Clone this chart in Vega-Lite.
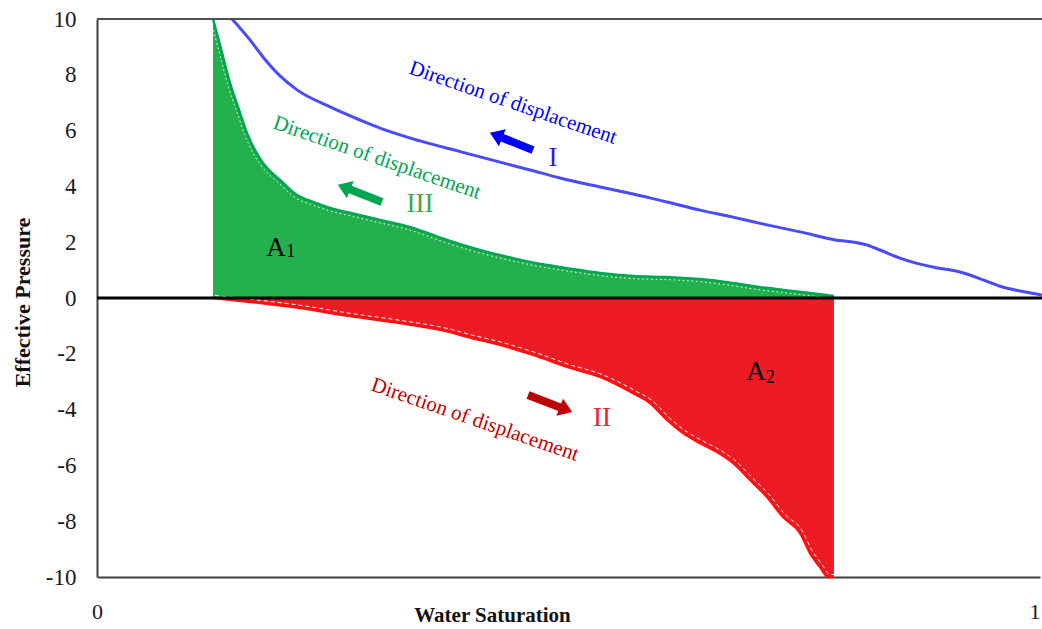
{
  "$schema": "https://vega.github.io/schema/vega-lite/v6.json",
  "width": 943,
  "height": 558,
  "autosize": {"type": "none"},
  "padding": {"left": 97, "top": 19, "right": 2, "bottom": 52},
  "background": "white",
  "config": {
    "view": {"stroke": null},
    "font": "Liberation Serif",
    "text": {"font": "Liberation Serif"},
    "axis": {
      "labelFont": "Liberation Serif",
      "titleFont": "Liberation Serif",
      "labelFontSize": 23,
      "labelColor": "#1a1a1a"
    }
  },
  "datasets": {
    "curves": [
      {"series": "I", "sw": 0.1432, "p": 10.0},
      {"series": "I", "sw": 0.1622, "p": 9.25},
      {"series": "I", "sw": 0.1760, "p": 8.64},
      {"series": "I", "sw": 0.1941, "p": 7.96},
      {"series": "I", "sw": 0.2121, "p": 7.46},
      {"series": "I", "sw": 0.2471, "p": 6.85},
      {"series": "I", "sw": 0.2789, "p": 6.38},
      {"series": "I", "sw": 0.3001, "p": 6.09},
      {"series": "I", "sw": 0.3425, "p": 5.63},
      {"series": "I", "sw": 0.3871, "p": 5.23},
      {"series": "I", "sw": 0.4274, "p": 4.87},
      {"series": "I", "sw": 0.4592, "p": 4.59},
      {"series": "I", "sw": 0.4910, "p": 4.30},
      {"series": "I", "sw": 0.5334, "p": 3.98},
      {"series": "I", "sw": 0.5684, "p": 3.73},
      {"series": "I", "sw": 0.6045, "p": 3.44},
      {"series": "I", "sw": 0.6395, "p": 3.15},
      {"series": "I", "sw": 0.6744, "p": 2.90},
      {"series": "I", "sw": 0.7105, "p": 2.62},
      {"series": "I", "sw": 0.7455, "p": 2.37},
      {"series": "I", "sw": 0.7805, "p": 2.10},
      {"series": "I", "sw": 0.8165, "p": 1.90},
      {"series": "I", "sw": 0.8303, "p": 1.72},
      {"series": "I", "sw": 0.8515, "p": 1.43},
      {"series": "I", "sw": 0.8685, "p": 1.25},
      {"series": "I", "sw": 0.8865, "p": 1.11},
      {"series": "I", "sw": 0.9152, "p": 0.93},
      {"series": "I", "sw": 0.9395, "p": 0.65},
      {"series": "I", "sw": 0.9576, "p": 0.42},
      {"series": "I", "sw": 0.9788, "p": 0.25},
      {"series": "I", "sw": 1.0021, "p": 0.11},

      {"series": "III", "sw": 0.1230, "p": 10.0},
      {"series": "III", "sw": 0.1304, "p": 9.07},
      {"series": "III", "sw": 0.1410, "p": 7.71},
      {"series": "III", "sw": 0.1506, "p": 6.74},
      {"series": "III", "sw": 0.1591, "p": 5.91},
      {"series": "III", "sw": 0.1675, "p": 5.30},
      {"series": "III", "sw": 0.1760, "p": 4.84},
      {"series": "III", "sw": 0.1856, "p": 4.48},
      {"series": "III", "sw": 0.1941, "p": 4.23},
      {"series": "III", "sw": 0.2121, "p": 3.69},
      {"series": "III", "sw": 0.2291, "p": 3.44},
      {"series": "III", "sw": 0.2471, "p": 3.23},
      {"series": "III", "sw": 0.2736, "p": 3.01},
      {"series": "III", "sw": 0.3001, "p": 2.80},
      {"series": "III", "sw": 0.3351, "p": 2.51},
      {"series": "III", "sw": 0.3712, "p": 2.08},
      {"series": "III", "sw": 0.4061, "p": 1.72},
      {"series": "III", "sw": 0.4411, "p": 1.43},
      {"series": "III", "sw": 0.4772, "p": 1.18},
      {"series": "III", "sw": 0.5122, "p": 1.00},
      {"series": "III", "sw": 0.5334, "p": 0.90},
      {"series": "III", "sw": 0.5684, "p": 0.79},
      {"series": "III", "sw": 0.6045, "p": 0.75},
      {"series": "III", "sw": 0.6395, "p": 0.68},
      {"series": "III", "sw": 0.6744, "p": 0.54},
      {"series": "III", "sw": 0.7031, "p": 0.39},
      {"series": "III", "sw": 0.7275, "p": 0.29},
      {"series": "III", "sw": 0.7561, "p": 0.18},
      {"series": "III", "sw": 0.7815, "p": 0.07},

      {"series": "II", "sw": 0.1230, "p": 0.0},
      {"series": "II", "sw": 0.1622, "p": -0.14},
      {"series": "II", "sw": 0.2153, "p": -0.36},
      {"series": "II", "sw": 0.2683, "p": -0.65},
      {"series": "II", "sw": 0.3213, "p": -0.90},
      {"series": "II", "sw": 0.3743, "p": -1.22},
      {"series": "II", "sw": 0.3924, "p": -1.39},
      {"series": "II", "sw": 0.4274, "p": -1.68},
      {"series": "II", "sw": 0.4624, "p": -2.04},
      {"series": "II", "sw": 0.4984, "p": -2.47},
      {"series": "II", "sw": 0.5334, "p": -2.83},
      {"series": "II", "sw": 0.5684, "p": -3.41},
      {"series": "II", "sw": 0.5864, "p": -3.76},
      {"series": "II", "sw": 0.6045, "p": -4.37},
      {"series": "II", "sw": 0.6214, "p": -4.84},
      {"series": "II", "sw": 0.6395, "p": -5.20},
      {"series": "II", "sw": 0.6575, "p": -5.52},
      {"series": "II", "sw": 0.6744, "p": -5.91},
      {"series": "II", "sw": 0.6925, "p": -6.52},
      {"series": "II", "sw": 0.7105, "p": -7.13},
      {"series": "II", "sw": 0.7275, "p": -7.85},
      {"series": "II", "sw": 0.7455, "p": -8.42},
      {"series": "II", "sw": 0.7561, "p": -9.14},
      {"series": "II", "sw": 0.7667, "p": -9.64},
      {"series": "II", "sw": 0.7752, "p": -10.0},
      {"series": "II", "sw": 0.7815, "p": -10.0}
    ],
    "refs": [
      {"kind": "zero", "sw": 0, "sw2": 1.003, "p": 0},
      {"kind": "top", "sw": 0, "sw2": 1.003, "p": 10}
    ],
    "shafts": [
      {"series": "I", "sw": 0.4624, "p": 5.30, "sw2": 0.4257, "p2": 5.80},
      {"series": "III", "sw": 0.3022, "p": 3.44, "sw2": 0.2645, "p2": 3.94},
      {"series": "II", "sw": 0.4571, "p": -3.48, "sw2": 0.4948, "p2": -3.97}
    ],
    "heads": [
      {"series": "I", "sw": 0.4257, "p": 5.80},
      {"series": "III", "sw": 0.2645, "p": 3.94},
      {"series": "II", "sw": 0.4948, "p": -3.97}
    ],
    "notes": [
      {"kind": "dirI", "label": "Direction of displacement", "sw": 0.4411, "p": 6.99},
      {"kind": "dirIII", "label": "Direction of displacement", "sw": 0.2969, "p": 5.02},
      {"kind": "dirII", "label": "Direction of displacement", "sw": 0.4008, "p": -4.37},
      {"kind": "numI", "label": "I", "sw": 0.4836, "p": 5.02},
      {"kind": "numIII", "label": "III", "sw": 0.3425, "p": 3.37},
      {"kind": "numII", "label": "II", "sw": 0.5355, "p": -4.30},
      {"kind": "area", "label": "A", "sw": 0.1898, "p": 1.79},
      {"kind": "sub", "label": "1", "sw": 0.2055, "p": 1.65},
      {"kind": "area", "label": "A", "sw": 0.6988, "p": -2.65},
      {"kind": "sub", "label": "2", "sw": 0.7140, "p": -2.87}
    ]
  },
  "encoding": {
    "x": {
      "field": "sw",
      "type": "quantitative",
      "scale": {"domain": [0, 1], "nice": false, "zero": false},
      "axis": {
        "values": [0, 1],
        "labelExpr": "'' + datum.value",
        "labelAlign": {"condition": {"test": "datum.value === 1", "value": "right"}, "value": "center"},
        "grid": false,
        "ticks": false,
        "labelFlush": false,
        "labelOverlap": false,
        "labelPadding": 24,
        "labelFont": "Liberation Serif",
        "labelFontSize": 22,
        "labelColor": "#1a1a1a",
        "domainColor": "#404040",
        "domainWidth": 2,
        "title": "Water Saturation",
        "titleFont": "Liberation Serif",
        "titleFontSize": 21,
        "titleFontWeight": "bold",
        "titleColor": "#111111",
        "titleAlign": "center",
        "titleBaseline": "alphabetic",
        "titleX": 395,
        "titleY": 44
      }
    },
    "y": {
      "field": "p",
      "type": "quantitative",
      "scale": {"domain": [-10, 10], "nice": false, "zero": false},
      "axis": {
        "values": [-10, -8, -6, -4, -2, 0, 2, 4, 6, 8, 10],
        "labelExpr": "'' + datum.value",
        "grid": false,
        "ticks": false,
        "labelFlush": false,
        "labelOverlap": false,
        "labelPadding": 21,
        "labelFont": "Liberation Serif",
        "labelFontSize": 23,
        "labelColor": "#1a1a1a",
        "domainColor": "#404040",
        "domainWidth": 2,
        "title": "Effective Pressure",
        "titleFont": "Liberation Serif",
        "titleFontSize": 22,
        "titleFontWeight": "bold",
        "titleColor": "#111111",
        "titleAngle": 270,
        "titleAlign": "center",
        "titleBaseline": "middle",
        "titleX": -75,
        "titleY": 283
      }
    }
  },
  "layer": [
    {
      "data": {"name": "curves"},
      "transform": [{"filter": "datum.series === 'III'"}],
      "mark": {"type": "area", "color": "#22b14c", "opacity": 1, "interpolate": "monotone"},
      "encoding": {"y2": {"datum": 0}}
    },
    {
      "data": {"name": "curves"},
      "transform": [{"filter": "datum.series === 'II'"}],
      "mark": {"type": "area", "color": "#ed1c24", "opacity": 1, "interpolate": "monotone"},
      "encoding": {"y2": {"datum": 0}}
    },
    {
      "data": {"name": "curves"},
      "transform": [{"filter": "datum.series === 'III'"}],
      "mark": {"type": "line", "color": "#00a651", "strokeWidth": 2.5, "interpolate": "monotone"}
    },
    {
      "data": {"name": "curves"},
      "transform": [{"filter": "datum.series === 'III'"}],
      "mark": {"type": "line", "color": "#ffffff", "strokeWidth": 1, "strokeDash": [1.5, 3], "xOffset": -2, "yOffset": 2.5, "interpolate": "monotone"}
    },
    {
      "data": {"name": "curves"},
      "transform": [{"filter": "datum.series === 'II'"}],
      "mark": {"type": "line", "color": "#ff1010", "strokeWidth": 2.5, "interpolate": "monotone"}
    },
    {
      "data": {"name": "curves"},
      "transform": [{"filter": "datum.series === 'II'"}],
      "mark": {"type": "line", "color": "#ffffff", "strokeWidth": 1, "strokeDash": [4, 3], "xOffset": 2, "yOffset": -2.5, "interpolate": "monotone"}
    },
    {
      "data": {"name": "curves"},
      "transform": [{"filter": "datum.series === 'I'"}],
      "mark": {"type": "line", "color": "#4a4aff", "strokeWidth": 3, "interpolate": "monotone"}
    },
    {
      "data": {"name": "refs"},
      "transform": [{"filter": "datum.kind === 'zero'"}],
      "mark": {"type": "rule", "color": "#000000", "strokeWidth": 3},
      "encoding": {"x2": {"field": "sw2"}}
    },
    {
      "data": {"name": "refs"},
      "transform": [{"filter": "datum.kind === 'top'"}],
      "mark": {"type": "rule", "color": "#505050", "strokeWidth": 2},
      "encoding": {"x2": {"field": "sw2"}}
    },
    {
      "data": {"name": "shafts"},
      "mark": {"type": "rule", "strokeWidth": 8, "strokeCap": "butt"},
      "encoding": {
        "x2": {"field": "sw2"},
        "y2": {"field": "p2"},
        "color": {
          "field": "series",
          "type": "nominal",
          "scale": {"domain": ["I", "II", "III"], "range": ["#0000ff", "#c00000", "#00a651"]},
          "legend": null
        }
      }
    },
    {
      "data": {"name": "heads"},
      "transform": [{"filter": "datum.series !== 'II'"}],
      "mark": {"type": "point", "filled": true, "opacity": 1, "size": 340, "angle": 291.6, "shape": "M0,-1L1,0.45L-1,0.45Z"},
      "encoding": {"color": {"field": "series", "type": "nominal", "legend": null}}
    },
    {
      "data": {"name": "heads"},
      "transform": [{"filter": "datum.series === 'II'"}],
      "mark": {"type": "point", "filled": true, "opacity": 1, "size": 340, "angle": 111.1, "shape": "M0,-1L1,0.45L-1,0.45Z"},
      "encoding": {"color": {"field": "series", "type": "nominal", "legend": null}}
    },
    {
      "data": {"name": "notes"},
      "transform": [{"filter": "datum.kind === 'dirI'"}],
      "mark": {"type": "text", "angle": 19, "fontSize": 21, "color": "#0000ff", "align": "center", "baseline": "middle"},
      "encoding": {"text": {"field": "label"}}
    },
    {
      "data": {"name": "notes"},
      "transform": [{"filter": "datum.kind === 'dirIII'"}],
      "mark": {"type": "text", "angle": 19, "fontSize": 21, "color": "#00a651", "align": "center", "baseline": "middle"},
      "encoding": {"text": {"field": "label"}}
    },
    {
      "data": {"name": "notes"},
      "transform": [{"filter": "datum.kind === 'dirII'"}],
      "mark": {"type": "text", "angle": 19, "fontSize": 21, "color": "#c00000", "align": "center", "baseline": "middle"},
      "encoding": {"text": {"field": "label"}}
    },
    {
      "data": {"name": "notes"},
      "transform": [{"filter": "datum.kind === 'numI'"}],
      "mark": {"type": "text", "fontSize": 27, "color": "#3a18d8", "align": "center", "baseline": "middle"},
      "encoding": {"text": {"field": "label"}}
    },
    {
      "data": {"name": "notes"},
      "transform": [{"filter": "datum.kind === 'numIII'"}],
      "mark": {"type": "text", "fontSize": 27, "color": "#3fa844", "align": "center", "baseline": "middle"},
      "encoding": {"text": {"field": "label"}}
    },
    {
      "data": {"name": "notes"},
      "transform": [{"filter": "datum.kind === 'numII'"}],
      "mark": {"type": "text", "fontSize": 27, "color": "#ee2233", "align": "center", "baseline": "middle"},
      "encoding": {"text": {"field": "label"}}
    },
    {
      "data": {"name": "notes"},
      "transform": [{"filter": "datum.kind === 'area'"}],
      "mark": {"type": "text", "fontSize": 27, "color": "#000000", "align": "center", "baseline": "middle"},
      "encoding": {"text": {"field": "label"}}
    },
    {
      "data": {"name": "notes"},
      "transform": [{"filter": "datum.kind === 'sub'"}],
      "mark": {"type": "text", "fontSize": 18, "color": "#000000", "align": "center", "baseline": "middle"},
      "encoding": {"text": {"field": "label"}}
    }
  ]
}
